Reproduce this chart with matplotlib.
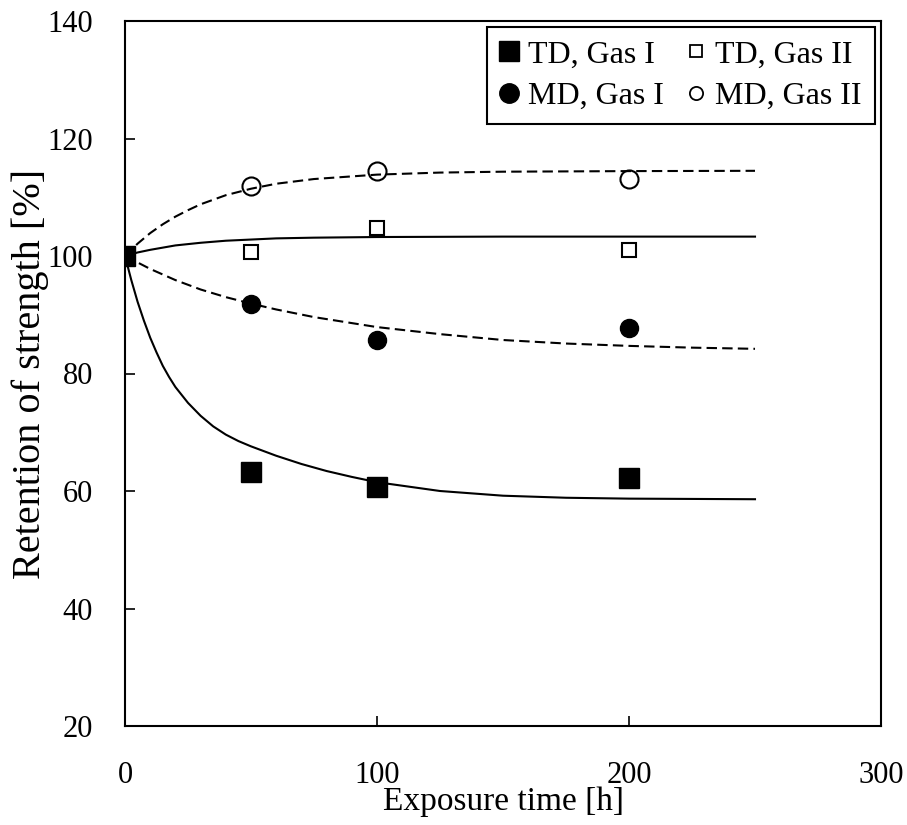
import matplotlib.pyplot as plt
from matplotlib.lines import Line2D

plt.rcParams['font.family'] = ['Liberation Serif', 'DejaVu Serif']

# measured points
exposure_h = [0, 50, 100, 200]
td_gas1 = [100, 63.3, 60.7, 62.2]
td_gas2 = [100, 100.7, 104.7, 101.1]
md_gas1 = [100, 91.8, 85.7, 87.7]
md_gas2 = [100, 111.9, 114.5, 113.1]

# trend curves
td1_t = [0, 2.5, 5, 7.5, 10, 12.5, 15, 17.5, 20, 25, 30, 35, 40, 45, 50, 60, 70, 80, 90,
         100, 125, 150, 175, 200, 250]
td1_y = [100, 95.9, 92.2, 89.0, 86.1, 83.6, 81.3, 79.4, 77.7, 75.0, 72.8, 71.0, 69.6, 68.5,
         67.6, 66.0, 64.6, 63.4, 62.4, 61.5, 60.0, 59.2, 58.85, 58.7, 58.6]

td2_t = [0, 5, 10, 20, 30, 40, 50, 60, 75, 100, 150, 250]
td2_y = [100, 100.6, 101.05, 101.8, 102.25, 102.6, 102.8, 103.0, 103.12, 103.23, 103.3, 103.3]

md1_t = [0, 10, 20, 30, 40, 50, 60, 75, 100, 125, 150, 175, 200, 225, 250]
md1_y = [100, 97.8, 95.9, 94.3, 93.0, 91.9, 90.9, 89.6, 87.9, 86.7, 85.7, 85.1, 84.7, 84.4, 84.2]

md2_t = [0, 5, 10, 15, 20, 25, 30, 40, 50, 60, 75, 100, 125, 150, 200, 250]
md2_y = [100, 102.1, 103.9, 105.4, 106.7, 107.8, 108.8, 110.35, 111.45, 112.3, 113.1,
         113.85, 114.2, 114.35, 114.45, 114.5]

labels = ['TD, Gas I', 'TD, Gas II', 'MD, Gas I', 'MD, Gas II']
x_ticks = [0, 100, 200, 300]
y_ticks = [20, 40, 60, 80, 100, 120, 140]

fig = plt.figure(figsize=(9.07, 8.25), dpi=100)
ax = fig.add_axes([125 / 907, 99 / 825, 756 / 907, 705 / 825])

lw = 1.5
ax.plot(td1_t, td1_y, color='black', lw=lw, zorder=2)
ax.plot(td2_t, td2_y, color='black', lw=lw, zorder=2)
ax.plot(md1_t, md1_y, color='black', lw=lw, dashes=(5, 2.5), zorder=2)
ax.plot(md2_t, md2_y, color='black', lw=lw, dashes=(5, 2.5), zorder=2)

ax.plot(exposure_h[1:], td_gas2[1:], 's', ms=10.5, mfc='none', mec='black', mew=1.5, zorder=3)
ax.plot(exposure_h[1:], md_gas1[1:], 'o', ms=13, color='black', zorder=3)
ax.plot(exposure_h[1:], md_gas2[1:], 'o', ms=13, mfc='none', mec='black', mew=1.5, zorder=3)
ax.plot(exposure_h, td_gas1, 's', ms=14, color='black', zorder=4)

ax.set_xlim(0, 300)
ax.set_ylim(20, 140)
ax.set_xticks(x_ticks)
ax.set_yticks(y_ticks)
ax.tick_params(axis='both', direction='in', length=7, width=1.2, labelsize=22)
ax.tick_params(axis='x', pad=25)
ax.tick_params(axis='y', pad=23)
for s in ax.spines.values():
    s.set_linewidth(1.5)

ax.set_xlabel('Exposure time [h]', fontsize=24)
ax.xaxis.set_label_coords(0.5, -0.086)
ax.set_ylabel('Retention of strength [%]', fontsize=29)
ax.yaxis.set_label_coords(-0.10, 0.5)

# legend keys are drawn at their own sizes
handles = [
    Line2D([], [], ls='none', marker='s', ms=14, color='black'),
    Line2D([], [], ls='none', marker='o', ms=14, color='black'),
    Line2D([], [], ls='none', marker='s', ms=9, mfc='none', mec='black', mew=1.3),
    Line2D([], [], ls='none', marker='o', ms=9.5, mfc='none', mec='black', mew=1.3),
]
leg = ax.legend(handles, [labels[0], labels[2], labels[1], labels[3]], ncol=2, loc='upper right',
                fontsize=23, frameon=True, fancybox=False, edgecolor='black', framealpha=1,
                handlelength=0.6, handletextpad=0.3, columnspacing=0.7,
                borderpad=0.4, labelspacing=0.38, borderaxespad=0.2)
leg.get_frame().set_linewidth(1.5)

fig.savefig('out.png', dpi=100)
